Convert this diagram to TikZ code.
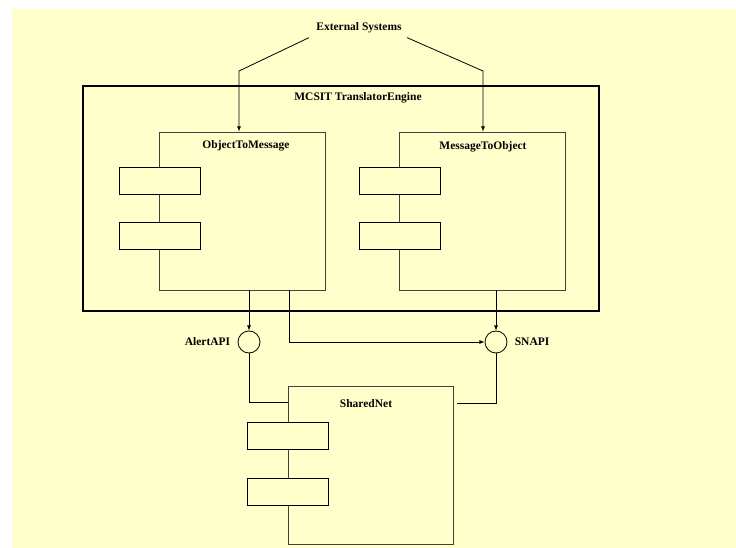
\documentclass[tikz,border=0pt]{standalone}
\usepackage{fontspec}
\setmainfont{Liberation Serif}
\usetikzlibrary{positioning}
\definecolor{paper}{HTML}{FFFFCC}
\tikzset{
  comp/.style={rectangle, draw=black!75, line width=0.9bp, minimum width=166bp, minimum height=158bp, inner sep=0pt},
  port/.style={rectangle, draw, fill=paper, line width=0.9bp, minimum width=81bp, minimum height=27bp, inner sep=0pt},
  iface/.style={circle, draw, fill=paper, minimum size=22bp, inner sep=0pt},
  lbl/.style={font=\bfseries\fontsize{11.5bp}{14bp}\selectfont, inner sep=1bp}
}
\begin{document}
\begin{tikzpicture}[
                            x=1bp, y=-1bp,
                            line width=0.8bp,
                            >=latex
                        ]
                        % Page
                        \fill[white] (0,0) rectangle (736,548);
                        \fill[paper] (12,9) rectangle (736,548);
                        \useasboundingbox (0,0) rectangle (736,548);

                        % Blocks
                        \node [lbl] (ext) at (359,28) {External Systems};
                        \node [rectangle, draw, line width=2bp, minimum width=516bp, minimum height=225bp] (engine) at (341,198.5) {};
                        \node [lbl] (engineName) at (358,98) {MCSIT TranslatorEngine};

                        \node [comp] (OTM) at (242,211) {};
                        \node [lbl] (OTMname) at (246,146) {ObjectToMessage};
                        \node [port] (OTMp1) at (159.5,181) {};
                        \node [port] (OTMp2) at (159.5,236) {};

                        \node [comp] (MTO) at (482,211) {};
                        \node [lbl] (MTOname) at (483,147) {MessageToObject};
                        \node [port] (MTOp1) at (400,181) {};
                        \node [port] (MTOp2) at (400,236) {};

                        \node [iface] (alert) at (249,342) {};
                        \node [lbl, left=6bp of alert] (alertName) {AlertAPI};
                        \node [iface] (snapi) at (496,342) {};
                        \node [lbl, right=6bp of snapi] (snapiName) {SNAPI};

                        \node [comp, minimum width=165bp] (SN) at (370.5,465) {};
                        \node [lbl] (SNname) at (366,404) {SharedNet};
                        \node [port] (SNp1) at (287.5,435.5) {};
                        \node [port] (SNp2) at (287.5,491.5) {};

                        \coordinate (kL) at (239,71);
                        \coordinate (kR) at (483,71);

                        % Connections
                        \draw [->] ([xshift=-6bp,yshift=-3bp]ext.south west) -- (kL) -- (kL |- OTM.north);
                        \draw [->] ([xshift=4bp,yshift=-3bp]ext.south east) -- (kR) -- (kR |- MTO.north);
                        \draw [->] (alert |- OTM.south) -- (alert);
                        \draw [->] ([xshift=47bp]OTM.south) |- (snapi);
                        \draw [->] (snapi |- MTO.south) -- (snapi);
                        \draw (alert) |- ([yshift=-17bp]SN.north west);
                        \draw (snapi) |- ([xshift=4bp,yshift=-18bp]SN.north east);
                    \end{tikzpicture}
\end{document}
